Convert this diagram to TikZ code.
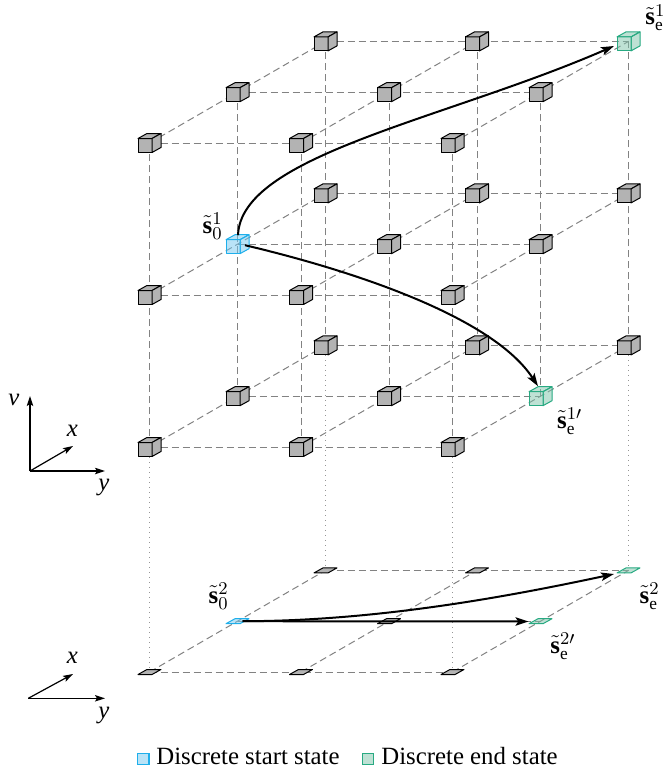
\documentclass[tikz,border=0pt]{standalone}
\usepackage{fontspec}
\setmainfont{Liberation Serif}
\usetikzlibrary{arrows.meta}
\definecolor{boxgray}{RGB}{179,179,179}
\definecolor{gridgray}{RGB}{130,130,130}
\definecolor{dotgray}{RGB}{150,150,150}
\definecolor{startline}{RGB}{30,175,235}
\definecolor{startfill}{RGB}{115,200,240}
\definecolor{endline}{RGB}{40,170,130}
\definecolor{endfill}{RGB}{125,195,170}
\tikzset{
  grayface/.style={fill=boxgray,draw=black,line width=0.5pt,line join=round},
  startface/.style={fill=startfill,fill opacity=0.5,draw=startline,line width=0.5pt,line join=round},
  endface/.style={fill=endfill,fill opacity=0.5,draw=endline,line width=0.5pt,line join=round},
  pics/cubeat/.style={code={
    \path[#1] (-11.5,-4.5) rectangle (2.5,9.5);
    \path[#1] (-11.5,-4.5) -- (2.5,-4.5) -- (11.5,-9.5) -- (-2.5,-9.5) -- cycle;
    \path[#1] (2.5,-4.5) -- (11.5,-9.5) -- (11.5,4.5) -- (2.5,9.5) -- cycle;
  }},
  pics/flatat/.style={code={
    \path[#1] (-11.5,2.5) -- (2.5,2.5) -- (11.5,-2.5) -- (-2.5,-2.5) -- cycle;
  }},
  gridline/.style={draw=gridgray,line width=0.5pt,dash pattern=on 3.5pt off 2pt},
  dotline/.style={draw=dotgray,line width=0.5pt,dash pattern=on 0.5pt off 2pt},
  conn/.style={line width=1pt,-{Stealth[length=6.5pt,width=4.2pt,inset=1.4pt]}},
  axis/.style={line width=0.6pt,-{Stealth[length=5pt,width=3.2pt,inset=1pt]}},
  lab/.style={inner sep=0pt,anchor=base west},
  axlab/.style={inner sep=0pt,anchor=base},
  legsq/.style={minimum size=5.6pt,inner sep=0pt,line width=0.6pt,fill opacity=0.5},
}
\begin{document}
\begin{tikzpicture}[x=0.5pt,y=-0.5pt,font=\fontsize{12.4}{14}\selectfont]
\useasboundingbox (0,0) rectangle (668,771);
% lattice coordinates
\foreach \i in {0,1,2}{
  \foreach \j in {0,1,2}{
    \coordinate (P-\i-\j) at ({149.5+88*\i+151.5*\j},{672-50.8*\i});
    \foreach \k in {0,1,2}{
      \coordinate (L-\i-\j-\k) at ({149.5+88*\i+151.5*\j},{447-50.8*\i-152*\k});
    }
  }
}
% dashed grid of the cube lattice
\foreach \a in {0,1,2}{
  \foreach \b in {0,1,2}{
    \draw[gridline] (L-\a-0-\b) -- (L-\a-2-\b);
    \draw[gridline] (L-0-\a-\b) -- (L-2-\a-\b);
    \draw[gridline] (L-\a-\b-0) -- (L-\a-\b-2);
  }
}
% plane grid
\foreach \a in {0,1,2}{
  \draw[gridline] (P-\a-0) -- (P-\a-2);
  \draw[gridline] (P-0-\a) -- (P-2-\a);
}
% dotted projections
\draw[dotline] (L-0-0-0) -- (P-0-0);
\draw[dotline] (L-0-2-0) -- (P-0-2);
\draw[dotline] (L-2-0-0) -- (P-2-0);
\draw[dotline] (L-2-2-0) -- (P-2-2);
% plane tiles
\foreach \i in {2,1,0}{
  \foreach \j in {0,1,2}{
    \pgfmathtruncatemacro\pid{10*\i+\j}
    \ifnum\pid=10 \else\ifnum\pid=22 \else\ifnum\pid=12 \else
      \pic at (P-\i-\j) {flatat=grayface};
    \fi\fi\fi
  }
}
\pic at (P-1-0) {flatat=startface};
\pic at (P-2-2) {flatat=endface};
\pic at (P-1-2) {flatat=endface};
% cubes
\foreach \i in {2,1,0}{
  \foreach \k in {0,1,2}{
    \foreach \j in {0,1,2}{
      \pgfmathtruncatemacro\cid{100*\i+10*\j+\k}
      \ifnum\cid=101 \else\ifnum\cid=222 \else\ifnum\cid=120 \else
        \pic at (L-\i-\j-\k) {cubeat=grayface};
      \fi\fi\fi
    }
  }
}
\pic at (L-1-0-1) {cubeat=startface};
\pic at (L-2-2-2) {cubeat=endface};
\pic at (L-1-2-0) {cubeat=endface};
% transitions
\draw[conn] ([shift={(0.5,-9)}]L-1-0-1) .. controls +(3,-80) and +(-170,74) .. ([shift={(-14.5,4.6)}]L-2-2-2);
\draw[conn] ([shift={(7.5,1)}]L-1-0-1) .. controls +(110,26) and +(-45,-69) .. ([shift={(-2.5,-10)}]L-1-2-0);
\draw[conn] ([shift={(5,0)}]P-1-0) -- ([shift={(-12,0.3)}]P-1-2);
\draw[conn] ([shift={(5,0)}]P-1-0) .. controls +(140,0) and +(-94,20) .. ([shift={(-14.5,3.6)}]P-2-2);
% labels
\node[lab] (ls01) at (202.3,233.3) {$\tilde{\mathbf{s}}_0^1$};
\node[lab] (lse1) at (645,25) {$\tilde{\mathbf{s}}_{\mathrm{e}}^1$};
\node[lab] (lse1p) at (556.7,428.3) {$\tilde{\mathbf{s}}_{\mathrm{e}}^{1\prime}$};
\node[lab] (ls02) at (208.3,603.3) {$\tilde{\mathbf{s}}_0^2$};
\node[lab] (lse2) at (639.3,603.3) {$\tilde{\mathbf{s}}_{\mathrm{e}}^2$};
\node[lab] (lse2p) at (550,653.3) {$\tilde{\mathbf{s}}_{\mathrm{e}}^{2\prime}$};
% axes
\coordinate (O1) at (30,471);
\coordinate (V1) at (30,396);
\coordinate (Y1) at (105,471);
\coordinate (X1) at (73,446);
\draw[axis] (O1) -- (V1);
\draw[axis] (O1) -- (Y1);
\draw[axis] (O1) -- (X1);
\node[axlab] (lv) at (14,405) {\textit{v}};
\node[axlab] (lx1) at (72.5,436.7) {\textit{x}};
\node[axlab] (ly1) at (104,490) {\textit{y}};
\coordinate (O2) at (28.3,698.3);
\coordinate (Y2) at (105,698.3);
\coordinate (X2) at (73,674);
\draw[axis] (O2) -- (Y2);
\draw[axis] (O2) -- (X2);
\node[axlab] (lx2) at (72.5,663.3) {\textit{x}};
\node[axlab] (ly2) at (104,718) {\textit{y}};
% legend
\node[legsq,draw=startline,fill=startfill] (q1) at (143.3,758.8) {};
\node[lab] (t1) at (156,764.3) {Discrete start state};
\node[legsq,draw=endline,fill=endfill] (q2) at (368.2,758.8) {};
\node[lab] (t2) at (381,764.3) {Discrete end state};
\end{tikzpicture}
\end{document}
